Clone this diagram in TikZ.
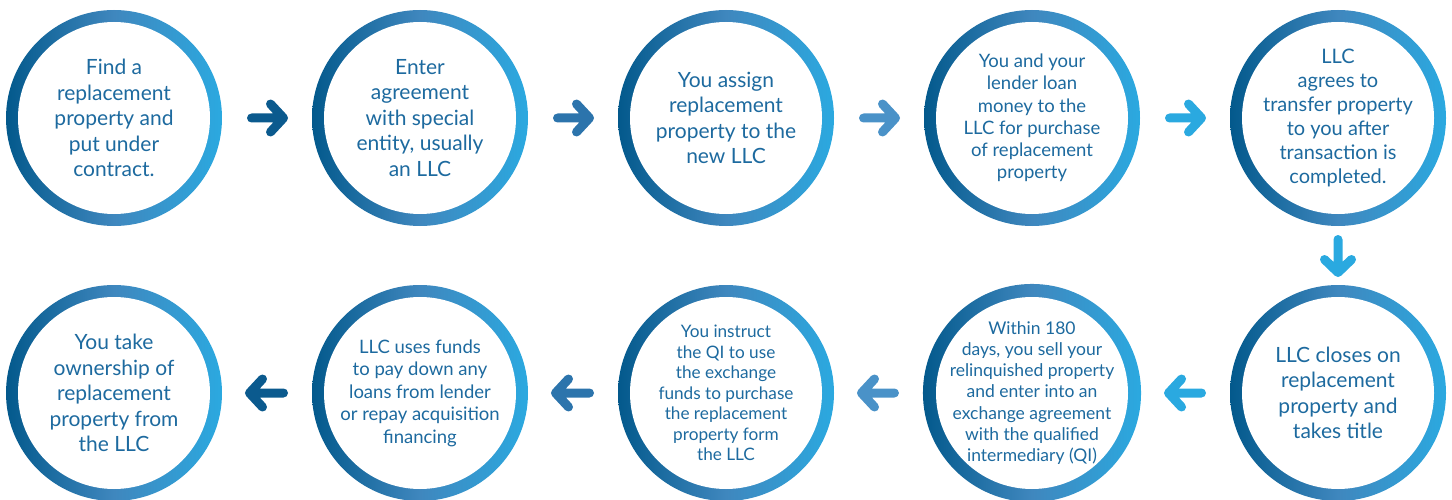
\documentclass[tikz,border=0pt]{standalone}
\usepackage{fontspec}
\setmainfont{Lato}
\usetikzlibrary{calc}
\definecolor{ringL}{HTML}{03598C}
\definecolor{ringM}{HTML}{3F87BE}
\definecolor{ringR}{HTML}{2BA9E0}
\definecolor{txt}{HTML}{1D6A9F}
\definecolor{arA}{HTML}{0B5A8E}
\definecolor{arB}{HTML}{2C74AC}
\definecolor{arC}{HTML}{4A92C8}
\definecolor{arD}{HTML}{2AA9E0}
\tikzset{
  stepring/.style={circle, minimum size=216pt, inner sep=0pt, outer sep=0pt,
    left color=ringL, right color=ringR, middle color=ringM,
    path picture={\fill[white] (path picture bounding box.center) circle (96pt);},
    text=txt, align=center},
  fa/.style={font=\fontsize{21}{25.5}\selectfont},
  arrowline/.style={line width=9pt, line cap=round, line join=round}
}
\begin{document}
\begin{tikzpicture}[x=1pt,y=-1pt]
\useasboundingbox (0,0) rectangle (1452,500);
\node[stepring, fa] (c1) at (114,118) {Find a\\replacement\\property and\\put under\\contract.};
\node[stepring, fa] (c2) at (420,118) {Enter\\agreement\\with special\\entity, usually\\an LLC};
\node[stepring, fa] (c3) at (726,118) {You assign\\replacement\\property to the\\new LLC};
\node[stepring, font=\fontsize{18.5}{22.3}\selectfont] (c4) at (1032,118) {You and your\\lender loan\\money to the\\LLC for purchase\\of replacement\\property};
\node[stepring, font=\fontsize{20}{24}\selectfont] (c5) at (1338,118) {LLC\\agrees to\\transfer property\\to you after\\transaction is\\completed.};
\node[stepring, fa] (c6) at (1338,393) {LLC closes on\\replacement\\property and\\takes title};
\node[stepring, font=\fontsize{17.5}{21.3}\selectfont] (c7) at (1032,393) {Within 180\\days, you sell your\\relinquished property\\and enter into an\\exchange agreement\\with the qualified\\intermediary (QI)};
\node[stepring, font=\fontsize{17.2}{20.5}\selectfont] (c8) at (726,393) {You instruct\\the QI to use\\the exchange\\funds to purchase\\the replacement\\property form\\the LLC};
\node[stepring, font=\fontsize{18.5}{22.5}\selectfont] (c9) at (420,393) {LLC uses funds\\to pay down any\\loans from lender\\or repay acquisition\\financing};
\node[stepring, fa] (c10) at (114,393) {You take\\ownership of\\replacement\\property from\\the LLC};
% top row arrows
\draw[arrowline, arA] ($(c1.east)+(29.5,0)$) -- ($(c2.west)+(-28.5,0)$) coordinate (t1) ++(-13,-14) -- (t1) -- ++(-13,14);
\draw[arrowline, arB] ($(c2.east)+(29.5,0)$) -- ($(c3.west)+(-28.5,0)$) coordinate (t2) ++(-13,-14) -- (t2) -- ++(-13,14);
\draw[arrowline, arC] ($(c3.east)+(29.5,0)$) -- ($(c4.west)+(-28.5,0)$) coordinate (t3) ++(-13,-14) -- (t3) -- ++(-13,14);
\draw[arrowline, arD] ($(c4.east)+(29.5,0)$) -- ($(c5.west)+(-28.5,0)$) coordinate (t4) ++(-13,-14) -- (t4) -- ++(-13,14);
% down arrow
\draw[arrowline, arD] ($(c5.south)+(0,13.5)$) -- ($(c6.north)+(0,-12.5)$) coordinate (t5) ++(-13.5,-13) -- (t5) -- ++(13.5,-13);
% bottom row arrows
\draw[arrowline, arD] ($(c6.west)+(-28.5,0)$) -- ($(c7.east)+(27.5,0)$) coordinate (t6) ++(13,-14) -- (t6) -- ++(13,14);
\draw[arrowline, arC] ($(c7.west)+(-28.5,0)$) -- ($(c8.east)+(27.5,0)$) coordinate (t7) ++(13,-14) -- (t7) -- ++(13,14);
\draw[arrowline, arB] ($(c8.west)+(-28.5,0)$) -- ($(c9.east)+(27.5,0)$) coordinate (t8) ++(13,-14) -- (t8) -- ++(13,14);
\draw[arrowline, arA] ($(c9.west)+(-28.5,0)$) -- ($(c10.east)+(27.5,0)$) coordinate (t9) ++(13,-14) -- (t9) -- ++(13,14);
\end{tikzpicture}
\end{document}
